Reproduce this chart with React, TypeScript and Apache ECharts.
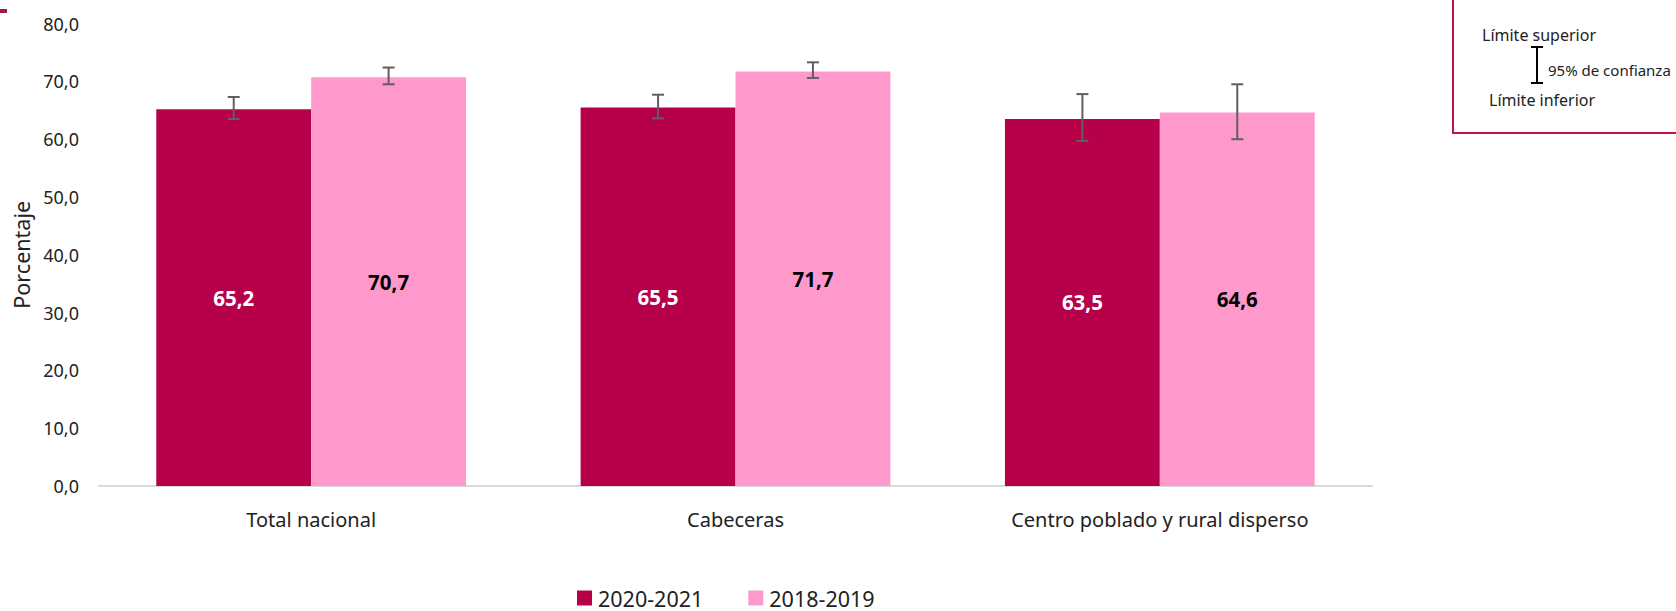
import React, { useEffect, useRef } from "react";
import * as echarts from "echarts";

const categories = ["Total nacional", "Cabeceras", "Centro poblado y rural disperso"];
const seriesNames = ["2020-2021", "2018-2019"];
const values2020 = [65.2, 65.5, 63.5];
const values2018 = [70.7, 71.7, 64.6];
const low2020 = [63.5, 63.6, 59.7];
const high2020 = [67.3, 67.7, 67.8];
const low2018 = [69.5, 70.6, 60.0];
const high2018 = [72.4, 73.3, 69.5];
const yTicks = { min: 0, max: 80, interval: 10 };

const DARK = "#B7004A";
const PINK = "#FF99CC";
const FONT = "'Noto Sans', 'Open Sans', sans-serif";
const fmt = (v: number) => v.toFixed(1).replace(".", ",");
const CAT_GAP = 0.27;

function errorSeries(name: string, lows: number[], highs: number[], side: number) {
  return {
    type: "custom",
    name: name + " IC",
    z: 10,
    silent: true,
    data: lows.map((l, i) => [i, l, highs[i]]),
    encode: { x: 0, y: [1, 2] },
    renderItem: (params: any, api: any) => {
      const cat = api.value(0);
      const lo = api.coord([cat, api.value(1)]);
      const hi = api.coord([cat, api.value(2)]);
      const band = api.size([1, 0])[0];
      const bw = (band * (1 - CAT_GAP)) / 2;
      const x = lo[0] + (side * bw) / 2;
      const cap = 6;
      const style = { stroke: "#5f5f5f", lineWidth: 2 };
      return {
        type: "group",
        children: [
          { type: "line", shape: { x1: x, y1: hi[1], x2: x, y2: lo[1] }, style },
          { type: "line", shape: { x1: x - cap, y1: hi[1], x2: x + cap, y2: hi[1] }, style },
          { type: "line", shape: { x1: x - cap, y1: lo[1], x2: x + cap, y2: lo[1] }, style },
        ],
      };
    },
  };
}

export default function App() {
  const ref = useRef<HTMLDivElement>(null);
  useEffect(() => {
    if (!ref.current) return;
    const chart = echarts.init(ref.current, undefined, { renderer: "svg" });
    chart.setOption({
      animation: false,
      textStyle: { fontFamily: FONT },
      grid: { left: 99, right: 304, top: 23.6, bottom: 125, containLabel: false },
      legend: {
        data: seriesNames,
        left: 577,
        top: 587,
        padding: 0,
        icon: "rect",
        itemWidth: 15,
        itemHeight: 15,
        itemGap: 45,
        textStyle: { fontSize: 21.5, lineHeight: 20, color: "#222", fontFamily: FONT, padding: [0, 0, 0, 1] },
      },
      xAxis: {
        type: "category",
        data: categories,
        axisTick: { show: false },
        axisLine: { lineStyle: { color: "#d9d9d9", width: 2 } },
        axisLabel: { fontSize: 20, color: "#222", margin: 23, fontFamily: FONT },
      },
      yAxis: {
        type: "value",
        min: yTicks.min,
        max: yTicks.max,
        interval: yTicks.interval,
        name: "Porcentaje",
        nameLocation: "middle",
        nameRotate: 90,
        nameGap: 65,
        nameTextStyle: { fontSize: 21.5, color: "#222", fontFamily: FONT },
        splitLine: { show: false },
        axisLine: { show: false },
        axisTick: { show: false },
        axisLabel: { fontSize: 18, color: "#222", margin: 20, formatter: (v: number) => fmt(v) },
      },
      series: [
        {
          type: "bar",
          name: seriesNames[0],
          data: values2020,
          itemStyle: { color: DARK },
          barGap: "0%",
          barCategoryGap: "27%",
          label: {
            show: true,
            position: "inside",
            color: "#fff",
            fontWeight: "bold",
            fontSize: 20.5,
            fontFamily: FONT,
            formatter: (p: any) => fmt(p.value),
          },
        },
        {
          type: "bar",
          name: seriesNames[1],
          data: values2018,
          itemStyle: { color: PINK },
          barGap: "0%",
          barCategoryGap: "27%",
          label: {
            show: true,
            position: "inside",
            color: "#000",
            fontWeight: "bold",
            fontSize: 20.5,
            fontFamily: FONT,
            formatter: (p: any) => fmt(p.value),
          },
        },
        errorSeries(seriesNames[0], low2020, high2020, -1),
        errorSeries(seriesNames[1], low2018, high2018, 1),
      ],
      graphic: [
        { type: "rect", shape: { x: 0, y: 9, width: 7, height: 4 }, style: { fill: "#9B1B4B" } },
        {
          type: "rect",
          shape: { x: 1453, y: -10, width: 260, height: 143 },
          style: { fill: "none", stroke: "#C0144F", lineWidth: 2 },
        },
        {
          type: "text",
          x: 1482,
          y: 35,
          style: { text: "Límite superior", fontSize: 16, fill: "#222", fontFamily: FONT, verticalAlign: "middle" },
        },
        {
          type: "text",
          x: 1548,
          y: 70,
          style: { text: "95% de confianza", fontSize: 15, fill: "#222", fontFamily: FONT, verticalAlign: "middle" },
        },
        {
          type: "text",
          x: 1489,
          y: 100,
          style: { text: "Límite inferior", fontSize: 16, fill: "#222", fontFamily: FONT, verticalAlign: "middle" },
        },
        { type: "line", shape: { x1: 1537, y1: 47, x2: 1537, y2: 83 }, style: { stroke: "#000", lineWidth: 2 } },
        { type: "line", shape: { x1: 1531, y1: 47, x2: 1543, y2: 47 }, style: { stroke: "#000", lineWidth: 2 } },
        { type: "line", shape: { x1: 1531, y1: 83, x2: 1543, y2: 83 }, style: { stroke: "#000", lineWidth: 2 } },
      ],
    });
    return () => chart.dispose();
  }, []);
  return (
    <div
      ref={ref}
      style={{ position: "fixed", left: 0, top: 0, width: 1676, height: 611, background: "#fff" }}
    />
  );
}
